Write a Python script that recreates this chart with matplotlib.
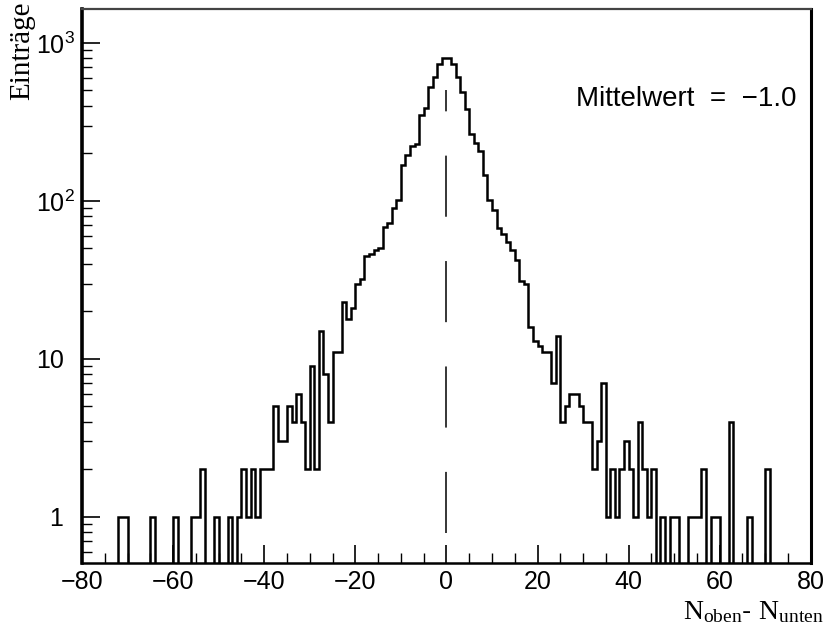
import numpy as np
import matplotlib.pyplot as plt
from matplotlib.ticker import MultipleLocator, LogLocator, NullFormatter

plt.rcParams['font.family'] = 'Liberation Sans'
plt.rcParams['mathtext.fontset'] = 'custom'
plt.rcParams['mathtext.rm'] = 'Liberation Serif'
plt.rcParams['mathtext.sf'] = 'Liberation Sans'

# Histogram of N_oben - N_unten, bins of width 1 from -80 to 80
bin_edges = np.arange(-80, 81)
counts = np.array([
    0, 0, 0, 0, 0, 0, 0, 0, 1, 1,            # -80 .. -71
    0, 0, 0, 0, 0, 1, 0, 0, 0, 0,            # -70 .. -61
    1, 0, 0, 0, 1, 1, 2, 0, 0, 1,            # -60 .. -51
    0, 0, 1, 0, 1, 2, 1, 2, 1, 2,            # -50 .. -41
    2, 2, 5, 3, 3, 5, 4, 6, 4, 2,            # -40 .. -31
    9, 2, 15, 8, 4, 11, 11, 23, 18, 21,      # -30 .. -21
    30, 32, 45, 46, 49, 50, 68, 72, 90, 102, # -20 .. -11
    170, 194, 224, 228, 348, 385, 525, 608, 738, 805,  # -10 .. -1
    805, 738, 608, 486, 380, 267, 231, 206, 146, 102,  # 0 .. 9
    88, 67, 62, 55, 49, 42, 31, 30, 16, 13,  # 10 .. 19
    12, 11, 11, 7, 14, 4, 5, 6, 6, 5,        # 20 .. 29
    4, 4, 2, 3, 7, 1, 2, 1, 2, 3,            # 30 .. 39
    2, 1, 4, 2, 1, 2, 0, 1, 0, 1,            # 40 .. 49
    1, 0, 0, 1, 1, 1, 2, 0, 1, 1,            # 50 .. 59
    0, 0, 4, 0, 0, 0, 1, 0, 0, 0,            # 60 .. 69
    2, 0, 0, 0, 0, 0, 0, 0, 0, 0,            # 70 .. 79
], dtype=float)

y_ticks = [1, 10, 100, 1000]
y_ticklabels = ['  1', '10', r'$\mathsf{10^{2}}$', r'$\mathsf{10^{3}}$']
mean_label = "Mittelwert  =  \u22121.0"
ref_x = 0
ref_ymin, ref_ymax = 0.79, 500

fig = plt.figure(figsize=(8.24, 6.30), dpi=100)
ax = fig.add_axes([0.0995, 0.1063, 0.8845, 0.8794])

# empty bins drawn to the bottom of the log axis
ax.stairs(np.where(counts > 0, counts, 1e-2), bin_edges, color='black', lw=1.8)
ax.vlines(ref_x, ref_ymin, ref_ymax, colors='black', lw=1.1,
          linestyles=(0, (40, 29)))

ax.set_yscale('log')
ax.set_xlim(-80, 80)
ax.set_ylim(0.51, 1640)

ax.xaxis.set_major_locator(MultipleLocator(20))
ax.xaxis.set_minor_locator(MultipleLocator(5))
ax.tick_params(axis='x', which='major', direction='in', length=13, width=1.2,
               labelsize=18, pad=5, top=False)
ax.tick_params(axis='x', which='minor', direction='in', length=7, width=1.0, top=False)

ax.set_yticks(y_ticks)
ax.set_yticklabels(y_ticklabels)
ax.yaxis.set_minor_locator(LogLocator(base=10, subs=np.arange(2, 10)))
ax.yaxis.set_minor_formatter(NullFormatter())
ax.tick_params(axis='y', which='major', direction='in', length=13, width=1.2,
               labelsize=18, pad=33, right=False)
ax.tick_params(axis='y', which='minor', direction='in', length=7, width=1.0, right=False)
for lbl in ax.get_yticklabels():
    lbl.set_horizontalalignment('left')

ax.spines['left'].set_linewidth(2.6)
ax.spines['bottom'].set_linewidth(1.8)
ax.spines['right'].set_linewidth(2.2)
ax.spines['top'].set_linewidth(1.6)
ax.spines['top'].set_color('#444444')

ax.text(0.981, 0.8375, mean_label, transform=ax.transAxes, ha='right', va='center',
        fontsize=20)

ax.set_ylabel('Einträge', family='Liberation Serif', fontsize=21, loc='top')
ax.yaxis.set_label_coords(-0.064, 1.013)
ax.set_xlabel(r'$\mathrm{N_{oben}}$- $\mathrm{N_{unten}}$', fontsize=20, loc='right')
ax.xaxis.set_label_coords(1.018, -0.066)

fig.savefig('out.png', dpi=100)
